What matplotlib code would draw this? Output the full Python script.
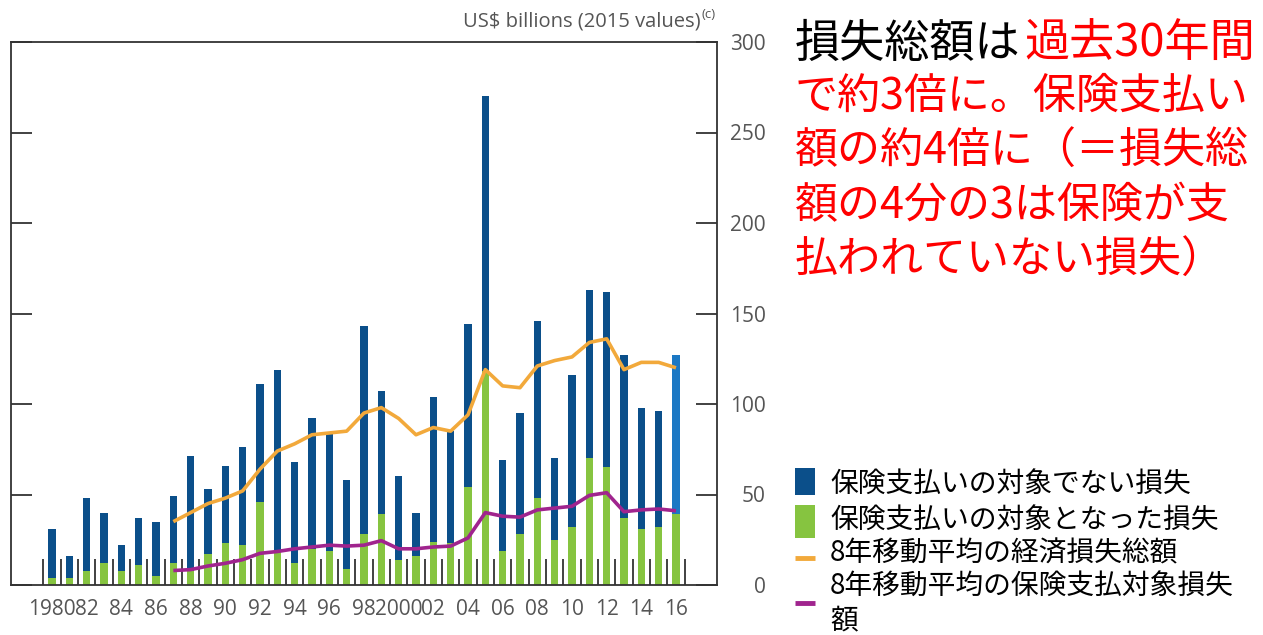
import matplotlib
matplotlib.use('Agg')
import matplotlib.pyplot as plt
from matplotlib.patches import Rectangle
from matplotlib.lines import Line2D
from matplotlib.ticker import FixedLocator
import numpy as np

# ---- data ----
years = list(range(1980, 2017))
total_losses = [31, 16, 48, 40, 22, 37, 35, 49, 71, 53,
                66, 76, 111, 119, 68, 92, 84, 58, 143, 107,
                60, 40, 104, 85, 144, 270, 69, 95, 146, 70,
                116, 163, 162, 127, 98, 96, 127]
insured_losses = [4, 4, 8, 12, 8, 11, 5, 12, 8, 17,
                  23, 22, 46, 18, 12, 20, 19, 9, 28, 39,
                  14, 16, 24, 23, 54, 118, 19, 28, 48, 25,
                  32, 70, 65, 37, 31, 32, 39]
ma_years = list(range(1987, 2017))
ma_total = [35, 40, 45, 48, 52, 64, 74, 78, 83, 84,
            85, 95, 98, 92, 83, 87, 85, 94, 119, 110,
            109, 121, 124, 126, 134, 136, 119, 123, 123, 120]
ma_insured = [8, 8.5, 10.5, 12, 14, 17.5, 18.5, 20, 21, 22,
              21.5, 22, 24.5, 20, 20, 21, 21.5, 26, 40, 38,
              37.5, 41.5, 42.5, 43.5, 49.5, 51, 40.5, 41.5, 42, 41]
xtick_years = list(range(1980, 2017, 2))
xtick_labels = ['1980', '82', '84', '86', '88', '90', '92', '94', '96', '98',
                '2000', '02', '04', '06', '08', '10', '12', '14', '16']
ytick_values = [0, 50, 100, 150, 200, 250, 300]
legend_labels = ['保険支払いの対象でない損失', '保険支払いの対象となった損失',
                 '8年移動平均の経済損失総額', '8年移動平均の保険支払対象損失\n額']
unit_label = 'US$ billions (2015 values)'

# ---- style ----
W, H = 1263, 635
DARK_BLUE = '#0b4f8a'
LIGHT_BLUE = '#1b78c4'
GREEN = '#86c440'
ORANGE = '#f2a93b'
MAGENTA = '#a0248e'
AX_COL = '#333333'
TXT_COL = '#555555'

def fx(px):
    return px / W

def fy(py):
    return 1 - py / H

fig = plt.figure(figsize=(W / 100, H / 100), dpi=100)
fig.patch.set_facecolor('white')

ax_l, ax_r, ax_t, ax_b = 11, 717, 42, 585
ax = fig.add_axes([fx(ax_l), fy(ax_b), (ax_r - ax_l) / W, (ax_b - ax_t) / H])

yrs = np.array(years)
tot = np.array(total_losses, dtype=float)
ins = np.array(insured_losses, dtype=float)
unins = tot - ins
blue_cols = [DARK_BLUE] * (len(years) - 1) + [LIGHT_BLUE]
bw = 0.42
ax.bar(yrs, ins, width=bw, color=GREEN, zorder=2)
ax.bar(yrs, unins, width=bw, bottom=ins, color=blue_cols, zorder=2)

ax.plot(ma_years, ma_total, color=ORANGE, lw=2.6, zorder=4, solid_capstyle='butt')
ax.plot(ma_years, ma_insured, color=MAGENTA, lw=2.6, zorder=4, solid_capstyle='butt')

px_per_year = 17.333
x0 = 1980 - (52 - ax_l) / px_per_year
x1 = 1980 + (ax_r - 52) / px_per_year
ax.set_xlim(x0, x1)
ax.set_ylim(0, 300)

for s in ax.spines.values():
    s.set_color(AX_COL)
    s.set_linewidth(1.3)

# x axis
ax.xaxis.set_major_locator(FixedLocator(xtick_years))
ax.set_xticklabels(xtick_labels)
ax.xaxis.set_minor_locator(FixedLocator(np.arange(1979.5, 2017, 1.0)))
ax.tick_params(axis='x', which='major', length=0, pad=10, labelsize=15,
               labelcolor=TXT_COL)
ax.tick_params(axis='x', which='minor', direction='in', length=18.5, width=1.3,
               color=AX_COL)
for lab in ax.get_xticklabels():
    lab.set_family('Open Sans')

# y axis
ax.set_yticks(ytick_values)
ax.tick_params(axis='y', which='major', direction='in', length=15, width=1.3,
               color=AX_COL, left=True, right=True, labelleft=False,
               labelright=True, labelsize=15, labelcolor=TXT_COL, pad=35)
for lab in ax.get_yticklabels():
    lab.set_family('Open Sans')
    lab.set_horizontalalignment('right')

# unit label
fig.text(fx(701), fy(22), unit_label.replace('$', r'\$'), ha='right', va='center',
         fontsize=14.5, color=TXT_COL, family='Open Sans')
fig.text(fx(702), fy(14), '(c)', ha='left', va='center', fontsize=9.5,
         color=TXT_COL, family='Open Sans')

# annotation text
jp = ['Noto Sans CJK JP', 'DejaVu Sans']
fig.text(fx(795), fy(44), '損失総額は', ha='left', va='center', fontsize=32.5,
         color='black', family=jp)
fig.text(fx(1024), fy(44), '過去30年間', ha='left', va='center', fontsize=32.5,
         color='#ff0000', family=jp)
lines_red = ['で約3倍に。保険支払い', '額の約4倍に（＝損失総', '額の4分の3は保険が支',
             '払われていない損失）']
for i, t in enumerate(lines_red):
    fig.text(fx(795), fy(97 + 54.5 * i), t, ha='left', va='center', fontsize=31,
             color='#ff0000', family=jp)

# legend (manual)
fig.add_artist(Rectangle((fx(795), fy(495)), 20 / W, 27 / H, transform=fig.transFigure,
                         facecolor=DARK_BLUE, edgecolor='none'))
fig.add_artist(Rectangle((fx(795), fy(538)), 20 / W, 33 / H, transform=fig.transFigure,
                         facecolor=GREEN, edgecolor='none'))
fig.add_artist(Line2D([fx(795), fx(815)], [fy(558), fy(558)], transform=fig.transFigure,
                      color=ORANGE, lw=3.5, solid_capstyle='butt'))
fig.add_artist(Line2D([fx(795), fx(815)], [fy(603), fy(603)], transform=fig.transFigure,
                      color=MAGENTA, lw=3.5, solid_capstyle='butt'))
leg_y = [484, 520, 553, 587]
fs_leg = 20
for i in range(3):
    fig.text(fx(830), fy(leg_y[i]), legend_labels[i], ha='left', va='center',
             fontsize=fs_leg, color='black', family=jp)
l4a, l4b = legend_labels[3].split('\n')
fig.text(fx(830), fy(587), l4a, ha='left', va='center', fontsize=fs_leg,
         color='black', family=jp)
fig.text(fx(830), fy(620), l4b, ha='left', va='center', fontsize=fs_leg,
         color='black', family=jp)

fig.savefig('out.png', dpi=100, facecolor='white')
